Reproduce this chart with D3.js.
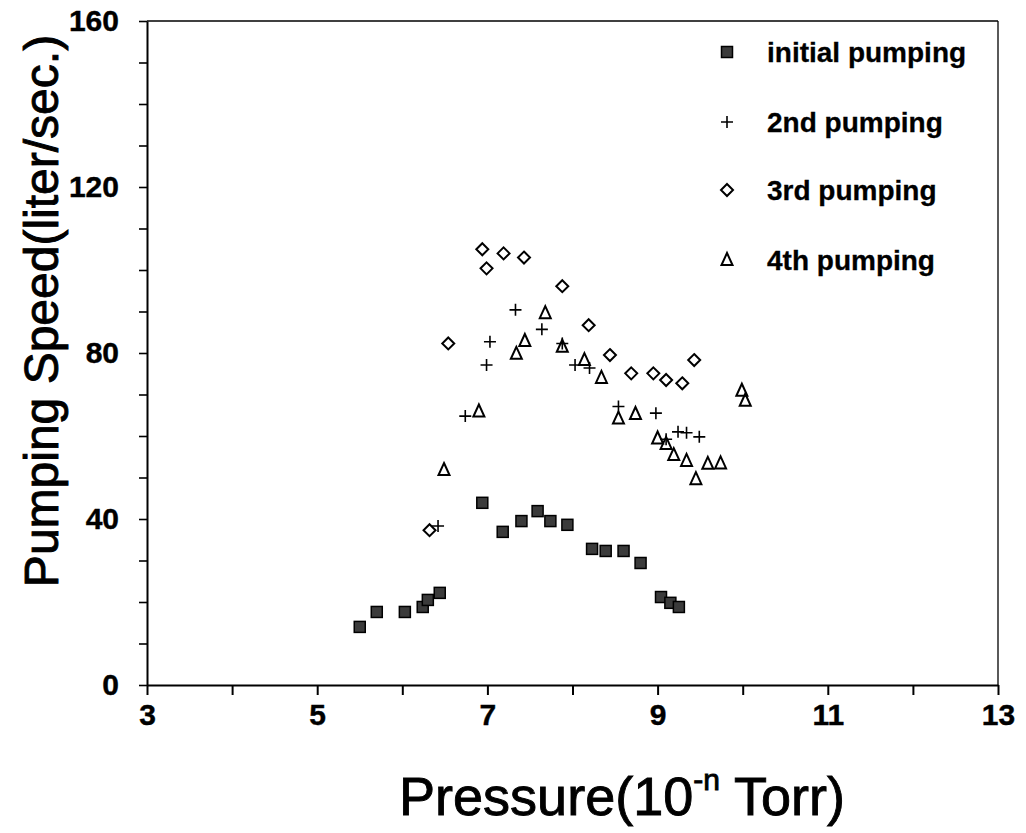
<!DOCTYPE html>
<html>
<head>
<meta charset="utf-8">
<script src="https://cdn.jsdelivr.net/npm/d3@7"></script>
<style>
  body { margin: 0; background: #fff; }
  svg { display: block; font-family: "Liberation Sans", Arial, sans-serif; }
  .tick text { font-weight: bold; fill: #000; stroke: #000; stroke-width: 0.4; }
  .title { fill: #000; stroke: #000; stroke-width: 0.9; }
</style>
</head>
<body>
<svg id="chart" width="1026" height="833"></svg>
<script>
// Data
const initialX = [5.50, 5.70, 6.03, 6.24, 6.30, 6.44, 6.94, 7.18, 7.40, 7.59, 7.74, 7.94, 8.23, 8.39, 8.60, 8.80, 9.04, 9.15, 9.25];
const initialY = [14.0, 17.6, 17.6, 18.8, 20.5, 22.2, 43.9, 36.9, 39.5, 41.9, 39.5, 38.6, 32.8, 32.3, 32.3, 29.4, 21.2, 19.8, 18.8];

const secondX = [6.42, 6.74, 6.99, 7.03, 7.33, 7.64, 7.88, 8.03, 8.20, 8.54, 8.98, 9.10, 9.24, 9.34, 9.49];
const secondY = [38.3, 64.8, 77.1, 82.7, 90.4, 85.7, 82.3, 77.1, 76.4, 67.1, 65.5, 59.2, 61.0, 60.8, 59.8];

const thirdX = [6.32, 6.54, 6.94, 6.99, 7.19, 7.43, 7.88, 8.19, 8.44, 8.69, 8.95, 9.10, 9.29, 9.43];
const thirdY = [37.3, 82.3, 105.0, 100.4, 104.0, 103.0, 96.1, 86.7, 79.5, 75.1, 75.1, 73.5, 72.7, 78.3];

const fourthX = [6.49, 6.90, 7.34, 7.44, 7.68, 7.88, 8.14, 8.34, 8.54, 8.74, 9.00, 9.10, 9.19, 9.34, 9.45, 9.59, 9.74, 9.99, 10.03];
const fourthY = [51.8, 65.9, 79.8, 82.9, 89.6, 81.5, 78.3, 74.0, 64.2, 65.3, 59.4, 58.1, 55.4, 54.0, 49.6, 53.3, 53.4, 70.9, 68.5];

const seriesNames = ['initial pumping', '2nd pumping', '3rd pumping', '4th pumping'];
const seriesSymbols = ['square', 'plus', 'diamond', 'triangle'];

const xTickValues = [3, 4, 5, 6, 7, 8, 9, 10, 11, 12, 13];
const yTickValues = [0, 10, 20, 30, 40, 50, 60, 70, 80, 90, 100, 110, 120, 130, 140, 150, 160];

const svg = d3.select('#chart');
const margin = { top: 21, right: 28, bottom: 148, left: 147 };
const width = 1026 - margin.left - margin.right;
const height = 833 - margin.top - margin.bottom;

const g = svg.append('g').attr('transform', `translate(${margin.left},${margin.top})`);

const x = d3.scaleLinear().domain([3, 13]).range([0, width]);
const y = d3.scaleLinear().domain([0, 160]).range([height, 0]);

// frame (top and right are thinner)
g.append('line').attr('x1', 0).attr('x2', width).attr('y1', 0).attr('y2', 0)
  .attr('stroke', '#000').attr('stroke-width', 1.3);
g.append('line').attr('x1', width).attr('x2', width).attr('y1', 0).attr('y2', height)
  .attr('stroke', '#000').attr('stroke-width', 1.3);

// x axis
const xAxis = g.append('g')
  .attr('transform', `translate(0,${height})`)
  .call(d3.axisBottom(x)
    .tickValues(xTickValues)
    .tickSize(10)
    .tickSizeOuter(0)
    .tickPadding(9)
    .tickFormat(d => d % 2 === 1 ? d : ''));
xAxis.select('.domain').attr('stroke-width', 2);
xAxis.selectAll('.tick line').attr('stroke-width', 2);
xAxis.selectAll('.tick text').attr('font-size', 30);

// y axis
const yAxis = g.append('g')
  .call(d3.axisLeft(y)
    .tickValues(yTickValues)
    .tickSize(8)
    .tickSizeOuter(0)
    .tickPadding(20)
    .tickFormat(d => d % 40 === 0 ? d : ''));
yAxis.select('.domain').attr('stroke-width', 2);
yAxis.selectAll('.tick line').attr('stroke-width', 1.6);
yAxis.selectAll('.tick text').attr('font-size', 30);

// axis titles
svg.append('text')
  .attr('class', 'title')
  .attr('transform', 'translate(58,311) rotate(-90)')
  .attr('text-anchor', 'middle')
  .attr('font-size', 48)
  .text('Pumping Speed(liter/sec.)');

const xTitle = svg.append('text')
  .attr('class', 'title')
  .attr('x', 622)
  .attr('y', 815)
  .attr('text-anchor', 'middle')
  .attr('font-size', 54);
xTitle.append('tspan').text('Pressure(10');
xTitle.append('tspan').attr('font-size', 30).attr('dy', -25).text('-n');
xTitle.append('tspan').attr('dy', 25).text(' Torr)');

// symbol drawing
function drawSymbol(sel, type) {
  if (type === 'square') {
    sel.append('rect')
      .attr('x', -5.5).attr('y', -5.5).attr('width', 11).attr('height', 11)
      .attr('fill', '#3b3b3b').attr('stroke', '#000').attr('stroke-width', 1.5);
  } else if (type === 'plus') {
    sel.append('path')
      .attr('d', 'M-6,0H6M0,-6V6')
      .attr('fill', 'none').attr('stroke', '#000').attr('stroke-width', 1.6);
  } else if (type === 'diamond') {
    sel.append('path')
      .attr('d', 'M0,-6L6,0L0,6L-6,0Z')
      .attr('fill', 'none').attr('stroke', '#000').attr('stroke-width', 2);
  } else if (type === 'triangle') {
    sel.append('path')
      .attr('d', 'M0,-7L5.5,5L-5.5,5Z')
      .attr('fill', 'none').attr('stroke', '#000').attr('stroke-width', 2);
  }
}

const series = [
  { xs: initialX, ys: initialY, sym: seriesSymbols[0] },
  { xs: secondX, ys: secondY, sym: seriesSymbols[1] },
  { xs: thirdX, ys: thirdY, sym: seriesSymbols[2] },
  { xs: fourthX, ys: fourthY, sym: seriesSymbols[3] }
];

series.forEach(s => {
  const pts = s.xs.map((v, i) => ({ x: v, y: s.ys[i] }));
  g.append('g')
    .selectAll('g')
    .data(pts)
    .join('g')
    .attr('transform', d => `translate(${x(d.x)},${y(d.y)})`)
    .each(function() { drawSymbol(d3.select(this), s.sym); });
});

// legend
const legendRows = [52, 122, 190, 260];
const legend = svg.append('g');
seriesNames.forEach((name, i) => {
  const row = legend.append('g').attr('transform', `translate(727,${legendRows[i]})`);
  drawSymbol(row, seriesSymbols[i]);
  row.append('text')
    .attr('x', 40)
    .attr('y', 10)
    .attr('font-size', 28)
    .attr('font-weight', 'bold')
    .attr('stroke', '#000')
    .attr('stroke-width', 0.3)
    .text(name);
});
</script>
</body>
</html>
